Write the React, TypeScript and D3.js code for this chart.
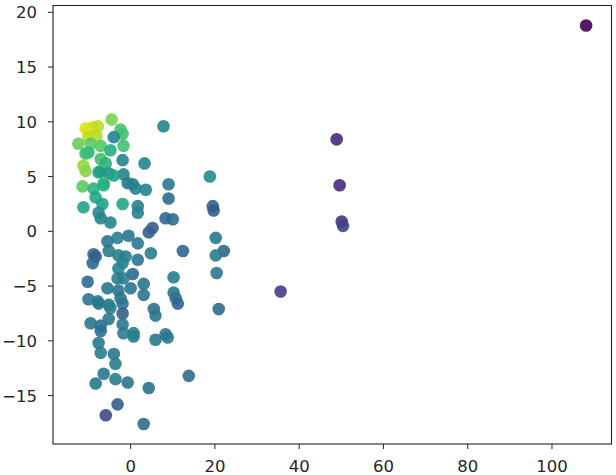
import * as d3 from 'd3'

// point positions and the value that drives the colour
const xs = [
  -4.5, -10.7, -9.0, -7.8, -10.0, -8.1, -10.0, -2.4, -1.9, -4.0,
  7.8, -12.4, -9.5, -7.1, -1.7, -4.8, -10.0, -10.7, -7.1, -5.9,
  -1.9, 3.3, -11.2, -10.7, -7.1, -7.6, -5.2, -1.7, -4.0, -6.4,
  -0.7, 0.5, -11.4, -8.8, -6.4, -8.3, -11.2, -6.7, -1.9, -7.6,
  1.7, 1.2, 3.6, 9.0, 9.0, 18.8, 19.5, 19.7, 8.3, 10.0,
  -7.1, -4.8, 1.7, 5.2, 4.3, 20.2, 22.1, 20.2, 12.4, 4.8,
  -5.5, -3.1, -0.5, 1.7, -8.8, -8.3, -9.0, -5.2, -2.9, -1.2,
  1.7, -1.9, -2.9, 0.5, -1.7, -3.1, 20.4, 10.2, -10.2, -5.5,
  -2.9, 0.0, 3.1, 3.1, 10.2, 10.7, 11.2, 20.9, 5.5, 5.9,
  -10.0, -7.8, -2.4, -7.6, -5.2, -1.9, -1.9, -4.8, -9.5, -7.1,
  -5.2, -1.9, -7.1, -1.7, 0.7, 0.7, 5.9, 8.3, 8.8, -7.6,
  -7.1, -4.0, -3.6, -6.4, -8.3, -3.6, -0.7, 4.3, 13.8, -3.1,
  -5.9, 3.1, 108.1, 48.9, 49.6, 50.1, 50.4, 35.6,
]
const ys = [
  10.2, 9.4, 9.5, 9.6, 9.0, 8.7, 8.6, 9.3, 8.9, 8.6,
  9.6, 8.0, 8.0, 7.8, 7.8, 7.4, 7.2, 7.1, 6.6, 6.2,
  6.5, 6.2, 6.0, 5.5, 5.5, 5.4, 5.3, 5.2, 5.1, 4.4,
  4.4, 4.3, 4.1, 3.9, 4.2, 3.1, 2.2, 2.5, 2.5, 1.7,
  2.3, 3.9, 3.8, 4.3, 3.0, 5.0, 2.3, 1.9, 1.2, 1.1,
  1.2, 0.8, 1.7, 0.3, -0.1, -0.6, -1.8, -2.2, -1.8, -2.0,
  -0.9, -0.6, -0.4, -1.1, -2.1, -2.3, -2.9, -1.8, -2.2, -2.3,
  -2.6, -2.9, -3.4, -3.9, -4.3, -4.3, -3.8, -4.2, -4.6, -5.2,
  -5.4, -5.2, -4.8, -5.8, -5.6, -6.1, -6.6, -7.1, -7.1, -7.7,
  -6.2, -6.4, -6.1, -6.6, -6.7, -6.6, -7.5, -7.0, -8.4, -8.6,
  -8.0, -8.5, -9.1, -9.3, -9.3, -9.6, -9.9, -9.4, -9.7, -10.2,
  -11.1, -11.2, -12.1, -13.0, -13.9, -13.5, -13.8, -14.3, -13.2, -15.8,
  -16.8, -17.6, 18.8, 8.4, 4.2, 0.9, 0.5, -5.5,
]
const cs = [
  0.8, 0.95, 0.93, 0.9, 0.95, 0.88, 0.9, 0.72, 0.7, 0.45,
  0.45, 0.77, 0.75, 0.74, 0.7, 0.62, 0.66, 0.68, 0.7, 0.64,
  0.45, 0.45, 0.84, 0.82, 0.7, 0.55, 0.52, 0.45, 0.58, 0.68,
  0.4, 0.42, 0.75, 0.64, 0.62, 0.6, 0.58, 0.57, 0.6, 0.47,
  0.45, 0.45, 0.45, 0.4, 0.35, 0.47, 0.3, 0.28, 0.35, 0.35,
  0.45, 0.45, 0.45, 0.3, 0.3, 0.4, 0.33, 0.42, 0.33, 0.42,
  0.4, 0.42, 0.4, 0.4, 0.35, 0.3, 0.33, 0.4, 0.42, 0.42,
  0.4, 0.45, 0.45, 0.35, 0.42, 0.42, 0.4, 0.42, 0.35, 0.4,
  0.38, 0.38, 0.4, 0.38, 0.38, 0.38, 0.32, 0.35, 0.38, 0.4,
  0.38, 0.4, 0.4, 0.4, 0.4, 0.38, 0.3, 0.42, 0.38, 0.36,
  0.4, 0.4, 0.36, 0.42, 0.42, 0.42, 0.4, 0.38, 0.4, 0.4,
  0.42, 0.4, 0.42, 0.4, 0.38, 0.42, 0.38, 0.37, 0.35, 0.3,
  0.22, 0.35, 0.0, 0.12, 0.12, 0.15, 0.2, 0.18,
]
const xTicks = [0, 20, 40, 60, 80, 100]
const yTicks = [-15, -10, -5, 0, 5, 10, 15, 20]

const W = 616, H = 475
const margin = { top: 5.5, right: 4.5, bottom: 31, left: 53 }

// pad the data range by 5% like matplotlib does
const padded = (vals: number[]) => {
  const [lo, hi] = d3.extent(vals) as [number, number]
  const p = (hi - lo) * 0.05
  return [lo - p, hi + p]
}

const App = () => {
  const x = d3.scaleLinear().domain(padded(xs)).range([margin.left, W - margin.right])
  const y = d3.scaleLinear().domain(padded(ys)).range([H - margin.bottom, margin.top])
  const fmt = d3.format('d')
  const font = { fontFamily: 'DejaVu Sans', fontSize: 16.5, fill: '#262626' }

  return (
    <svg width={W} height={H} style={{ position: 'absolute', left: 0, top: 0, background: '#fff' }}>
      {xs.map((v, i) => (
        <circle key={i} cx={x(v)} cy={y(ys[i])} r={6.3} fill={d3.interpolateViridis(cs[i])} fillOpacity={0.9} />
      ))}
      <rect x={margin.left} y={margin.top} width={W - margin.left - margin.right}
        height={H - margin.top - margin.bottom} fill="none" stroke="#222" strokeWidth={1.1} />
      {xTicks.map(t => (
        <g key={t} transform={`translate(${x(t)},${H - margin.bottom})`}>
          <line y2={5} stroke="#222" />
          <text y={28} textAnchor="middle" {...font}>{fmt(t)}</text>
        </g>
      ))}
      {yTicks.map(t => (
        <g key={t} transform={`translate(${margin.left},${y(t)})`}>
          <line x2={-5} stroke="#222" />
          <text x={-16} dy="0.36em" textAnchor="end" {...font}>{fmt(t)}</text>
        </g>
      ))}
    </svg>
  )
}

export default App
